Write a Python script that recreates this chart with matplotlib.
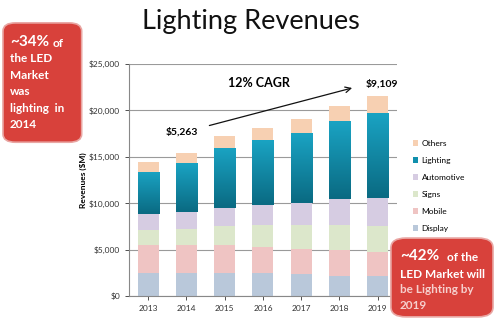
import matplotlib
matplotlib.use("Agg")
import matplotlib.pyplot as plt
import numpy as np
from matplotlib.patches import FancyBboxPatch
from matplotlib.ticker import FuncFormatter
from matplotlib.colors import LinearSegmentedColormap

years = ["2013", "2014", "2015", "2016", "2017", "2018", "2019"]
display = [2.5, 2.5, 2.5, 2.45, 2.35, 2.2, 2.1]
mobile = [3.0, 3.0, 3.0, 2.85, 2.75, 2.8, 2.6]
signs = [1.6, 1.7, 2.0, 2.3, 2.6, 2.6, 2.8]
automotive = [1.7, 1.9, 2.0, 2.2, 2.35, 2.85, 3.1]
lighting = [4.6, 5.263, 6.5, 7.0, 7.5, 8.4, 9.109]
others = [1.0, 1.1, 1.2, 1.3, 1.55, 1.65, 1.85]

series = [("Display", display, "#b9c8da"),
          ("Mobile", mobile, "#efc4c3"),
          ("Signs", signs, "#dce7cb"),
          ("Automotive", automotive, "#d6cce2"),
          ("Lighting", lighting, "#1190ad"),
          ("Others", others, "#f7d0b2")]

plt.rcParams['font.family'] = ['Lato', 'DejaVu Sans']
fig = plt.figure(figsize=(4.98, 3.27), dpi=100)
ax = fig.add_axes([0.259, 0.095, 0.538, 0.709])

x = np.arange(len(years))
bottom = np.zeros(len(years))
handles = {}
light_bars = None
for name, vals, col in series:
    v = np.array(vals) * 1000
    bars = ax.bar(x, v, 0.55, bottom=bottom, color=col, zorder=2, label=name)
    handles[name] = bars
    if name == "Lighting":
        light_bars = bars
    bottom += v

# gradient on lighting bars
grad = np.linspace(0, 1, 100).reshape(-1, 1)
cmap = LinearSegmentedColormap.from_list("g", ["#0a6a82", "#1aa3c3"])
for b in light_bars:
    x0, y0 = b.get_x(), b.get_y()
    w, h = b.get_width(), b.get_height()
    im = ax.imshow(grad, extent=[x0, x0 + w, y0, y0 + h], origin="lower",
                   cmap=cmap, aspect="auto", zorder=2.5)
    im.set_clip_path(b)

ax.set_xlim(-0.5, len(years) - 0.5)
ax.set_ylim(0, 25000)
ax.set_yticks(np.arange(0, 25001, 5000))
ax.yaxis.set_major_formatter(FuncFormatter(lambda v, p: "${:,.0f}".format(v)))
ax.set_xticks(x)
ax.set_xticklabels(years)
ax.tick_params(axis="both", labelsize=6, colors="#333333", length=3, width=0.6)
ax.grid(axis="y", color="#9a9a9a", linewidth=0.8, zorder=1)
for s in ["top", "right"]:
    ax.spines[s].set_visible(False)
ax.spines["left"].set_color("#888888")
ax.spines["bottom"].set_color("#888888")
ax.set_ylabel("Revenues ($M)", fontsize=6, fontweight="bold", labelpad=1)

# legend
order = ["Others", "Lighting", "Automotive", "Signs", "Mobile", "Display"]
leg = fig.legend([handles[n] for n in order], order, loc="upper left",
                 bbox_to_anchor=(0.815, 0.595), frameon=False, fontsize=6,
                 handlelength=0.6, handleheight=0.6, labelspacing=1.2,
                 handletextpad=0.4)

# annotations
ax.text(2.9, 23000, "12% CAGR", fontsize=9, fontweight="bold", ha="center", va="center", zorder=5)
ax.text(0.88, 17700, "$5,263", fontsize=7.5, fontweight="bold", ha="center", va="center", zorder=5)
ax.text(6.1, 22900, "$9,109", fontsize=7.5, fontweight="bold", ha="center", va="center", zorder=5)
ax.annotate("", xy=(5.4, 22500), xytext=(1.53, 18300),
            arrowprops=dict(arrowstyle="->", color="#111111", lw=0.9), zorder=5)

# title
fig.text(0.503, 0.935, "Lighting Revenues", fontsize=19.5, ha="center", va="center", color="#111111")

# callouts
red = "#d8413b"
b1 = FancyBboxPatch((0.006, 0.565), 0.158, 0.365, boxstyle="round,pad=0,rounding_size=0.025",
                    transform=fig.transFigure, facecolor=red, edgecolor="#e9a6a3", lw=1.2, zorder=10)
fig.add_artist(b1)
fig.text(0.02, 0.872, "~34%", fontsize=11, fontweight="bold", color="white", va="center", zorder=11)
fig.text(0.105, 0.868, "of", fontsize=8.5, fontweight="bold", color="white", va="center", zorder=11)
lines1 = ["the LED", "Market", "was", "lighting  in", "2014"]
for i, t in enumerate(lines1):
    fig.text(0.02, 0.82 - i * 0.0505, t, fontsize=8.5, fontweight="bold", color="white",
             va="center", zorder=11)

b2 = FancyBboxPatch((0.785, 0.031), 0.205, 0.241, boxstyle="round,pad=0,rounding_size=0.03",
                    transform=fig.transFigure, facecolor=red, edgecolor="#e9a6a3", lw=1.2, zorder=10)
fig.add_artist(b2)
fig.text(0.803, 0.216, "~42%", fontsize=11, fontweight="bold", color="white", va="center", zorder=11)
fig.text(0.898, 0.212, "of the", fontsize=8.5, fontweight="bold", color="white", va="center", zorder=11)
lines2 = ["LED Market will", "be Lighting by", "2019"]
cols2 = ["white", "#f6cfcd", "#f6cfcd"]
for i, t in enumerate(lines2):
    fig.text(0.803, 0.162 - i * 0.048, t, fontsize=8.5, fontweight="bold", color=cols2[i],
             va="center", zorder=11)

fig.savefig("out.png", dpi=100)
